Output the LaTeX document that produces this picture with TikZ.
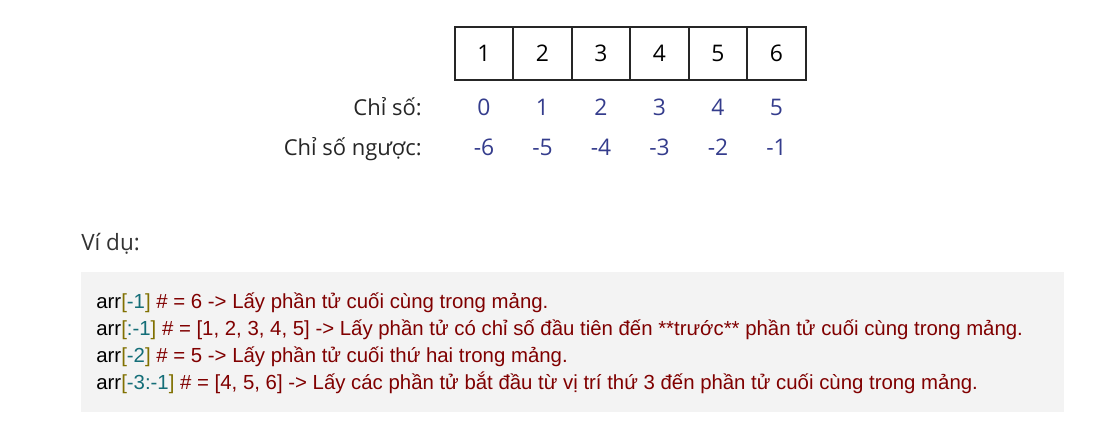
\documentclass[tikz,border=0pt]{standalone}
\usepackage{fontspec}
\setmainfont{Open Sans}
\newfontfamily\codefont{Liberation Sans}
\usetikzlibrary{positioning}
\definecolor{IdxBlue}{RGB}{52,60,140}
\definecolor{CodeBg}{RGB}{243,243,243}
\definecolor{CodeRed}{RGB}{128,0,0}
\definecolor{BrkOlive}{RGB}{128,112,0}
\definecolor{NumTeal}{RGB}{20,110,120}
\definecolor{HeadGray}{RGB}{51,51,51}
\newcommand{\brk}[1]{\textcolor{BrkOlive}{[}\textcolor{NumTeal}{#1}\textcolor{BrkOlive}{]}}

\begin{document}
\begin{tikzpicture}[x=0.02cm, y=-0.02cm,
  cellbox/.style={draw=black!85, line width=1.1pt, minimum width=1.17cm, minimum height=1.06cm, inner sep=0pt, font=\fontsize{13}{15}\selectfont},
  idx/.style={anchor=base, text=IdxBlue, inner sep=0pt, font=\fontsize{13}{15}\selectfont},
  rowlbl/.style={anchor=base east, text=black!85, inner sep=0pt, font=\fontsize{12.5}{15}\selectfont},
  codeline/.style={anchor=base west, inner sep=0pt, text=CodeRed, font=\codefont\fontsize{11.6}{14}\selectfont}]
\useasboundingbox (0,0) rectangle (1104,430);

% array and indices
\foreach \v [count=\i from 0] in {1,...,6} {
  \pgfmathtruncatemacro{\r}{\i-6}
  \node[cellbox] (c\i) at ({484+58.5*\i},53.5) {\v};
  \node[idx] (i\i) at ({484+58.5*\i},115) {\i};
  \node[idx] (r\i) at ({484+58.5*\i},155) {\r};
}
\node[rowlbl] (lblidx) at (422,115) {Chỉ số:};
\node[rowlbl] (lblrev) at (422,155) {Chỉ số ngược:};

% example block
\node[anchor=base west, inner sep=0pt, text=HeadGray, font=\fontsize{12.8}{15}\selectfont] (vidu) at (81,250) {Ví dụ:};
\node[fill=CodeBg, anchor=north west, minimum width=19.66cm, minimum height=2.8cm, inner sep=0pt] (codebg) at (81,272) {};
\node[codeline] (l1) at (96,308) {\textcolor{black}{arr}\brk{-1} \# = 6 -> Lấy phần tử cuối cùng trong mảng.};
\node[codeline] (l2) at (96,335) {\textcolor{black}{arr}\brk{:-1} \# = [1, 2, 3, 4, 5] -> Lấy phần tử có chỉ số đầu tiên đến **trước** phần tử cuối cùng trong mảng.};
\node[codeline] (l3) at (96,362) {\textcolor{black}{arr}\brk{-2} \# = 5 -> Lấy phần tử cuối thứ hai trong mảng.};
\node[codeline] (l4) at (96,389) {\textcolor{black}{arr}\brk{-3:-1} \# = [4, 5, 6] -> Lấy các phần tử bắt đầu từ vị trí thứ 3 đến phần tử cuối cùng trong mảng.};
\end{tikzpicture}
\end{document}
